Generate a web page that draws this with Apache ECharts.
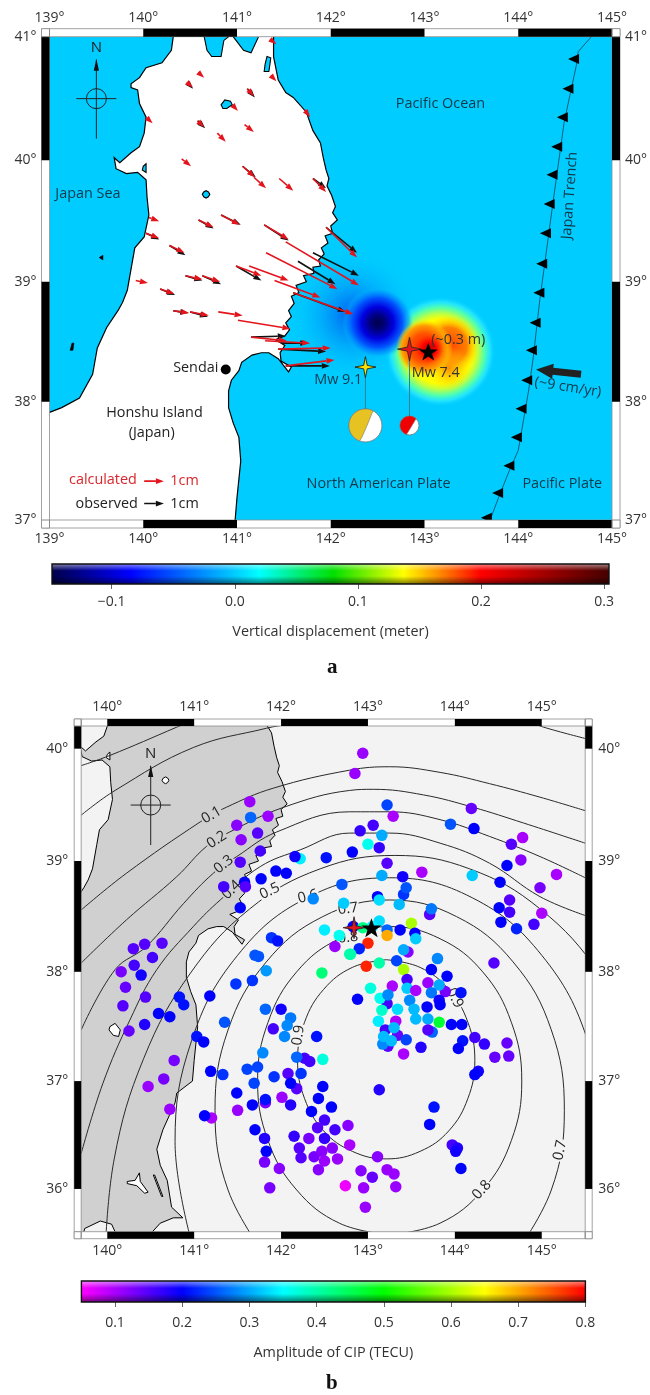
<!DOCTYPE html>
<html><head><meta charset="utf-8">
<style>html,body{margin:0;padding:0;background:#fff}#c{width:650px;height:1395px}</style>
<script src="https://cdn.jsdelivr.net/npm/echarts@6/dist/echarts.min.js"></script>
</head><body><div id="c"></div>
<script>
// ---------- coastline and water (lon, lat) ----------
const honshuEast=[[141.39,41.00],[141.39,40.84],[141.44,40.65],[141.52,40.55],[141.60,40.51],[141.74,40.39],[141.81,40.24],[141.89,40.14],[141.92,40.02],[141.95,39.92],[141.98,39.85],[141.96,39.79],[142.01,39.71],[142.05,39.62],[142.02,39.57],[142.07,39.51],[142.00,39.46],[142.02,39.40],[141.94,39.38],[141.97,39.32],[141.90,39.28],[141.93,39.23],[141.87,39.18],[141.89,39.13],[141.81,39.12],[141.82,39.07],[141.71,39.05],[141.74,39.00],[141.63,38.97],[141.66,38.91],[141.58,38.88],[141.61,38.82],[141.55,38.76],[141.58,38.71],[141.52,38.66],[141.56,38.60],[141.51,38.55],[141.41,38.52],[141.51,38.47],[141.46,38.41],[141.47,38.34],[141.58,38.29],[141.55,38.25],[141.44,38.36],[141.34,38.41],[141.26,38.41],[141.16,38.39],[141.05,38.33],[141.02,38.26],[140.94,38.18],[140.91,38.09],[140.91,37.95],[140.96,37.82],[141.02,37.70],[141.04,37.50],[141.00,37.19],[140.98,37.00],[140.80,36.89],[140.78,36.80],[140.64,36.55],[140.57,36.37],[140.61,36.22],[140.69,36.08],[140.74,35.83],[140.87,35.73],[140.76,35.73],[140.61,35.68],[140.52,35.60],[140.50,35.50]];
const honshuSouth=[[140.09,35.50],[140.09,35.60],[140.05,35.67],[139.92,35.70],[139.74,35.63],[139.70,35.50],[138.00,35.50],[138.00,37.60]];
const honshuWest=[[140.32,41.00],[140.30,40.89],[140.20,40.79],[140.03,40.75],[139.96,40.67],[139.87,40.62],[139.87,40.59],[139.94,40.57],[139.96,40.46],[140.03,40.35],[140.01,40.22],[139.96,40.11],[139.87,40.06],[139.75,39.98],[139.69,40.02],[139.71,39.93],[139.82,39.89],[139.94,39.90],[140.03,39.84],[140.04,39.70],[140.06,39.55],[140.01,39.37],[139.91,39.28],[139.88,39.15],[139.83,38.93],[139.78,38.83],[139.73,38.76],[139.61,38.62],[139.51,38.45],[139.46,38.23],[139.32,38.03],[139.13,37.95],[139.00,37.91],[138.90,37.87]];
const ogawara=[[141.32,40.84],[141.36,40.83],[141.35,40.77],[141.34,40.72],[141.29,40.72],[141.30,40.78]];
const towada=[[140.83,40.45],[140.87,40.49],[140.93,40.48],[140.95,40.45],[140.89,40.42],[140.85,40.42]];
const tazawa=[[140.63,39.72],[140.645,39.74],[140.67,39.75],[140.695,39.74],[140.71,39.72],[140.695,39.70],[140.67,39.69],[140.645,39.70]];
const hachirogata=[[140.00,39.95],[140.03,39.97],[140.03,39.90],[139.99,39.92]];
const inawashiro=[[140.03,37.50],[140.09,37.53],[140.15,37.47],[140.13,37.41],[140.07,37.42],[140.02,37.47]];
const kasumigaura=[[140.23,36.07],[140.32,36.08],[140.37,36.15],[140.38,36.07],[140.47,35.97],[140.43,35.96],[140.34,36.03],[140.23,36.05]];
const kitaura=[[140.53,36.13],[140.545,36.13],[140.64,35.93],[140.625,35.93]];
const mutsuBay=[[140.65,41.10],[140.65,41.00],[140.68,40.89],[140.73,40.84],[140.83,40.84],[140.86,40.97],[140.91,41.00],[140.91,41.10]];
const noheji=[[140.96,41.10],[140.96,41.00],[141.07,40.89],[141.15,40.87],[141.23,41.00],[141.23,41.10]];
const tobishima=[[139.53,39.20],[139.57,39.22],[139.57,39.18]];
const awashima=[[139.22,38.43],[139.24,38.49],[139.26,38.49],[139.25,38.43]];
// ---------- panel a marks ----------
const trenchLine=[[144.78,41.00],[144.64,40.88],[144.62,40.77],[144.49,40.31],[144.37,39.65],[144.23,38.85],[144.16,38.37],[144.11,38.09],[144.00,37.59],[143.90,37.41],[143.79,37.19],[143.70,37.00]];
const trenchTeeth=[[144.59,40.82],[144.53,40.58],[144.47,40.35],[144.41,40.11],[144.36,39.88],[144.33,39.64],[144.29,39.40],[144.25,39.15],[144.22,38.91],[144.18,38.66],[144.14,38.43],[144.09,38.18],[144.03,37.94],[143.98,37.70],[143.90,37.46],[143.78,37.23],[143.66,37.02]];
const calculatedArrows=[[141.37,40.97,141.42,40.94],[141.37,40.68,141.42,40.64],[140.59,40.71,140.65,40.67],[140.47,40.63,140.53,40.59],[141.11,40.58,141.18,40.52],[140.95,40.45,141.01,40.40],[141.72,40.41,141.78,40.35],[140.03,40.35,140.10,40.30],[140.58,40.32,140.65,40.27],[141.08,40.29,141.18,40.23],[140.79,40.22,140.88,40.15],[140.41,40.01,140.51,39.95],[141.06,39.95,141.19,39.86],[141.18,39.86,141.31,39.77],[141.45,39.85,141.60,39.75],[141.81,39.85,141.95,39.74],[140.06,39.53,140.17,39.50],[140.59,39.51,140.75,39.45],[140.83,39.55,141.03,39.47],[140.03,39.40,140.17,39.36],[140.28,39.30,140.44,39.24],[141.29,39.47,141.55,39.35],[141.95,39.45,142.28,39.20],[141.52,39.33,142.30,38.97],[141.31,39.24,142.07,38.94],[140.99,39.13,141.26,39.05],[141.13,39.13,141.55,39.01],[141.40,39.01,141.89,38.87],[141.60,38.91,142.24,38.73],[140.45,39.05,140.63,39.02],[140.63,39.05,140.82,39.00],[139.92,39.01,140.05,38.99],[140.18,38.94,140.33,38.90],[140.32,38.76,140.49,38.74],[140.50,38.75,140.70,38.72],[140.80,38.75,141.06,38.72],[141.01,38.68,141.57,38.61],[141.15,38.54,141.53,38.51],[141.30,38.51,141.78,38.49],[141.44,38.44,142.00,38.45],[141.52,38.30,142.04,38.35],[140.01,37.33,140.22,37.33]];
const observedArrows=[[141.95,39.45,142.28,39.24],[141.81,39.24,142.30,39.05],[141.65,39.17,142.05,38.98],[140.99,39.13,141.26,39.01],[141.60,38.91,142.16,38.75],[141.15,38.54,141.52,38.55],[141.47,38.49,141.76,38.49],[141.44,38.44,141.95,38.42],[141.52,38.30,141.99,38.30],[140.47,40.63,140.53,40.58],[141.11,40.58,141.19,40.51],[140.58,40.32,140.66,40.26],[141.06,39.95,141.20,39.86],[141.81,39.85,141.95,39.77],[140.59,39.51,140.75,39.44],[140.83,39.55,141.04,39.47],[140.03,39.40,140.17,39.35],[140.28,39.30,140.45,39.22],[141.29,39.47,141.55,39.34],[140.45,39.05,140.63,39.01],[140.63,39.05,140.83,38.98],[140.18,38.94,140.34,38.89],[140.32,38.76,140.48,38.74],[140.50,38.75,140.69,38.71],[140.01,37.14,140.22,37.14]];
const plateArrow=[144.67,38.23,144.19,38.27];
const sendai=[[140.88,38.27]];
const mainshockA=[[142.37,38.29]];
const foreshockA=[[142.84,38.44]];
const epicenterA=[[143.04,38.42]];
const focalBalls=[[142.37,38.29,37.80,16.5,'#e6c222',63,251,0.12],[142.84,38.44,37.80,9.5,'#f00000',46,252,0.27]];
// displacement field: lon, lat, half-widths in degrees, colour ramp
const fieldBlobs=[
 [142.24,38.72,0.80,0.55,[[0,'rgba(0,80,240,0.95)'],[1,'rgba(0,204,255,0)']]],
 [143.17,38.42,0.62,0.46,[[0,'#ffff00'],[0.58,'#ffff00'],[0.68,'#c0ff40'],[0.8,'#50ffb0'],[0.9,'rgba(40,232,255,0.8)'],[1,'rgba(0,204,255,0)']]],
 [142.50,38.66,0.38,0.45,[[0,'#00004a'],[0.2,'#00007a'],[0.45,'#0000e0'],[0.7,'rgba(0,80,255,0.95)'],[0.88,'rgba(0,150,255,0.6)'],[1,'rgba(0,204,255,0)']]],
 [143.26,38.47,0.32,0.25,[[0,'#ff4000'],[0.6,'#ff8000'],[1,'rgba(255,220,0,0)']]],
 [143.26,38.28,0.265,0.185,[[0,'#ff9000'],[1,'rgba(255,230,0,0)']]],
 [143.00,38.45,0.37,0.235,[[0,'#ff2000'],[0.5,'#ff5000'],[0.8,'#ffa000'],[1,'rgba(255,220,0,0)']]],
 [143.05,38.44,0.24,0.12,[[0,'#b80000'],[0.5,'#ff0000'],[1,'rgba(255,40,0,0)']]]
];
const labelsA=[[143.17,40.46,'Pacific Ocean',0,'#12384a'],[139.41,39.72,'Japan Sea',0,'#12384a'],[144.55,39.71,'Japan Trench',86,'#12384a'],[140.56,38.28,'Sendai',0,'#222'],[140.12,37.91,'Honshu Island',0,'#222'],[140.09,37.74,'(Japan)',0,'#222'],[139.57,37.34,'calculated',0,'#d9262a'],[139.61,37.14,'observed',0,'#222'],[140.44,37.33,'1cm',0,'#d9262a'],[140.44,37.14,'1cm',0,'#222'],[142.08,38.18,'Mw 9.1',0,'#12384a'],[143.12,38.24,'Mw 7.4',0,'#333'],[143.36,38.52,'(~0.3 m)',0,'#333'],[144.53,38.12,'(~9 cm/yr)',-9,'#12384a'],[142.51,37.31,'North American Plate',0,'#12384a'],[144.47,37.31,'Pacific Plate',0,'#12384a']];
// ---------- panel b marks ----------
const ring0=[[139.70,39.85],[140.03,39.94],[140.80,40.19],[141.07,40.28],[141.40,40.45]];
const ring00=[[139.70,39.41],[140.09,39.63],[140.99,40.01],[141.83,40.18],[142.14,40.23],[143.5,40.55],[145.02,40.19],[145.50,40.09]];
const ring01=[[139.70,38.56],[140.22,38.89],[141.07,39.35],[141.37,39.48],[141.91,39.65],[142.79,39.81],[143.25,39.84],[143.83,39.79],[144.40,39.69],[144.98,39.57],[145.50,39.45]];
const ring02=[[139.70,38.08],[140.22,38.47],[140.80,38.86],[141.14,39.13],[141.41,39.26],[142.03,39.48],[142.79,39.63],[143.06,39.64],[143.64,39.59],[144.21,39.48],[144.79,39.34],[145.50,39.16]];
const ring03=[[139.70,37.47],[140.09,38.02],[140.45,38.23],[140.88,38.62],[141.22,38.89],[141.49,39.04],[141.95,39.26],[142.79,39.44],[143.25,39.44],[143.83,39.37],[144.40,39.22],[144.98,39.04],[145.50,38.85]];
const ring04=[[139.70,36.33],[139.95,36.98],[140.26,37.56],[140.57,38.02],[140.99,38.41],[141.30,38.65],[141.76,38.95],[142.22,39.10],[142.79,39.25],[143.25,39.25],[143.83,39.16],[144.40,38.98],[144.98,38.68],[145.50,38.51]];
const ring05=[[139.97,35.30],[140.08,36.28],[140.42,37.21],[140.95,37.98],[141.64,38.57],[142.45,38.93],[143.31,39.05],[144.17,38.93],[144.98,38.57],[145.67,37.98],[146.20,37.21]];
const ring06=[[140.97,35.50],[140.78,36.44],[140.97,37.37],[141.50,38.15],[142.30,38.67],[143.25,38.85],[144.20,38.67],[145.00,38.15],[145.53,37.37],[145.72,36.44],[145.53,35.50]];
const ring07=[[141.83,35.36],[141.39,35.99],[141.24,36.73],[141.39,37.47],[141.83,38.09],[142.48,38.50],[143.25,38.65],[144.02,38.50],[144.67,38.09],[145.11,37.47],[145.26,36.73],[145.11,35.99],[144.67,35.36]];
const ring08=[[143.25,35.57],[142.67,35.68],[142.18,35.99],[141.85,36.45],[141.73,37.00],[141.85,37.54],[142.18,38.00],[142.67,38.30],[143.25,38.41],[143.83,38.30],[144.32,38.00],[144.65,37.54],[144.77,37.00],[144.65,36.45],[144.32,35.99],[143.83,35.68],[143.25,35.57]];
const ring09=[[143.21,38.11],[143.60,38.04],[143.93,37.84],[144.15,37.54],[144.23,37.19],[144.15,36.84],[143.93,36.54],[143.60,36.35],[143.21,36.28],[142.82,36.35],[142.49,36.54],[142.27,36.84],[142.19,37.19],[142.27,37.54],[142.49,37.84],[142.82,38.04],[143.21,38.11]];
const rings=[ring0,ring00,ring01,ring02,ring03,ring04,ring05,ring06,ring07,ring08,ring09];
const ringLabels=[[141.20,39.41,'0.1',30,'#d0d0d0'],[141.26,39.19,'0.2',33,'#d0d0d0'],[141.34,38.97,'0.3',38,'#d0d0d0'],[141.43,38.74,'0.4',45,'#d0d0d0'],[141.87,38.73,'0.5',25,'#f3f3f3'],[142.31,38.68,'0.6',14,'#f3f3f3'],[142.77,38.57,'0.7',8,'#f3f3f3'],[142.77,38.31,'0.8',5,'#f3f3f3'],[142.20,37.42,'0.9',82,'#f3f3f3'],[144.00,37.76,'0.9',-62,'#f3f3f3'],[144.31,35.99,'0.8',48,'#f3f3f3'],[145.21,36.36,'0.7',78,'#f3f3f3']];
const cipPoints=[[141.64,39.53,.11],[141.65,39.39,.26],[141.85,39.40,.11],[141.49,39.32,.12],[141.73,39.25,.15],[141.54,39.19,.12],[141.76,39.09,.16],[141.53,38.99,.15],[142.22,39.02,.34],[142.16,39.04,.19],[142.52,39.03,.21],[141.94,38.91,.2],[142.06,38.89,.2],[141.58,38.81,.2],[141.59,38.77,.15],[141.77,38.84,.2],[141.34,38.77,.16],[141.53,38.58,.2],[142.70,38.79,.25],[142.37,38.66,.28],[142.72,38.62,.32],[142.50,38.38,.34],[142.67,38.33,.36],[142.62,38.23,.11],[142.79,38.16,.4],[142.47,37.99,.43],[141.89,38.31,.23],[141.96,38.28,.21],[141.70,38.15,.25],[141.74,38.14,.25],[141.83,38.01,.29],[141.67,37.92,.23],[141.48,37.89,.23],
[140.30,38.21,.15],[140.43,38.25,.15],[140.63,38.26,.15],[140.52,38.13,.16],[140.31,38.06,.16],[140.16,38.00,.13],[140.39,37.97,.19],[140.21,37.86,.14],[140.44,37.77,.15],[140.18,37.69,.15],[140.83,37.77,.21],[140.88,37.70,.21],[140.59,37.62,.2],[140.72,37.59,.2],[140.43,37.52,.18],[140.25,37.46,.14],[141.18,37.78,.2],[141.35,37.54,.25],[141.03,37.41,.21],[141.11,37.36,.2],[140.77,37.19,.13],[140.65,37.02,.13],[140.47,36.95,.11],[140.72,36.74,.11],[141.20,36.66,.1],[141.12,36.68,.2],[141.50,36.73,.11],[141.19,37.09,.2],[141.33,37.06,.23],[141.61,37.11,.24],[141.73,37.13,.24],[141.69,36.98,.24],[141.92,37.04,.23],[141.49,36.89,.2],[141.67,36.78,.2],[141.82,36.80,.13],[141.82,36.83,.21],[142.01,36.85,.11],[142.08,37.07,.15],[142.18,36.93,.15],[142.11,36.98,.2],[142.23,37.07,.23],[142.11,36.78,.18],[142.48,36.95,.2],[142.43,36.84,.2],[142.58,36.76,.2],[142.35,36.72,.2],[142.50,36.64,.16],[142.42,36.57,.15],[142.62,36.55,.16],[142.77,36.59,.12],[142.15,36.49,.17],[142.32,36.47,.13],[142.50,36.47,.17],[142.79,36.41,.1],[142.59,36.38,.12],[142.21,36.38,.15],[142.23,36.29,.15],[142.38,36.30,.13],[142.47,36.35,.12],[142.50,36.26,.11],[142.65,36.28,.11],[142.43,36.18,.12],[142.74,36.03,.06],[141.70,36.55,.2],[141.81,36.47,.18],[141.83,36.35,.2],[141.81,36.25,.13],[141.98,36.19,.12],[141.87,36.01,.13],[141.82,37.66,.26],[142.00,37.66,.19],[142.11,37.58,.27],[142.07,37.51,.28],[141.91,37.48,.16],[142.04,37.41,.28],[142.41,37.41,.21],[141.79,37.26,.28],[142.27,37.21,.16],[142.33,37.18,.16],[142.18,37.22,.26],[142.48,37.20,.37],
[142.94,39.96,.11],[142.85,39.78,.11],[143.22,39.50,.24],[143.29,39.40,.1],[143.06,39.32,.16],[142.91,39.27,.17],[143.16,39.23,.3],[143.00,39.15,.36],[143.13,39.12,.17],[142.82,39.08,.2],[143.22,38.98,.15],[143.16,38.87,.3],[143.40,38.86,.19],[143.62,38.90,.1],[143.41,38.70,.23],[143.44,38.76,.25],[143.11,38.68,.2],[143.13,38.65,.33],[143.36,38.61,.31],[143.71,38.52,.15],[143.73,38.57,.27],[143.13,38.46,.33],[143.50,38.44,.6],[143.95,39.33,.25],[144.19,39.47,.14],[144.22,39.29,.2],[144.78,39.21,.1],[144.65,39.15,.15],[144.76,39.01,.12],[144.60,38.96,.2],[145.17,38.88,.1],[144.98,38.76,.13],[144.20,38.87,.32],[144.52,38.81,.2],[144.63,38.65,.15],[144.51,38.58,.2],[144.63,38.54,.16],[145.00,38.53,.1],[144.53,38.45,.2],[144.71,38.39,.22],[144.91,38.43,.16],[144.45,38.08,.15],[143.22,38.38,.26],[143.37,38.38,.2],[143.54,38.35,.2],[143.55,38.30,.32],[143.22,38.33,.7],[143.05,38.41,.34],[142.83,38.41,.2],[142.94,38.40,.42],[143.00,38.26,.78],[142.90,38.21,.22],[142.80,38.16,.4],[142.98,38.05,.78],[143.13,38.08,.4],[143.33,38.10,.24],[143.46,38.18,.12],[143.41,38.20,.3],[143.41,38.02,.6],[143.80,38.12,.28],[143.73,38.02,.2],[143.91,37.96,.2],[143.45,37.93,.16],[143.69,37.90,.11],[143.28,37.87,.1],[143.45,37.85,.32],
[143.03,37.85,.37],[143.55,37.83,.1],[143.89,37.82,.13],[143.82,37.88,.3],[143.73,37.81,.27],[144.07,37.81,.21],[142.88,37.75,.2],[143.22,37.71,.16],[143.14,37.76,.36],[143.23,37.79,.28],[143.48,37.74,.28],[143.82,37.74,.19],[143.83,37.70,.2],[143.68,37.68,.2],[143.34,37.66,.33],[143.16,37.65,.38],[143.53,37.66,.31],[143.32,37.55,.1],[143.12,37.55,.34],[143.55,37.57,.31],[143.69,37.57,.3],[143.82,37.54,.47],[143.96,37.52,.2],[144.08,37.52,.2],[143.20,37.47,.16],[143.34,37.42,.14],[143.30,37.49,.31],[143.74,37.45,.26],[143.69,37.47,.15],[143.23,37.32,.15],[143.17,37.34,.28],[143.18,37.41,.31],[143.27,37.37,.31],[143.44,37.38,.24],[143.61,37.31,.18],[143.41,37.25,.1],[144.09,37.37,.21],[144.04,37.30,.2],[144.23,37.40,.16],[144.34,37.34,.17],[144.60,37.35,.14],[144.46,37.22,.14],[144.62,37.23,.14],[144.27,37.09,.19],[144.23,37.06,.2],[143.13,36.92,.18],[143.76,36.76,.21],[143.71,36.60,.2],[143.97,36.41,.16],[144.03,36.38,.18],[144.01,36.35,.19],[144.07,36.19,.2],[143.11,36.30,.12],[142.92,36.17,.12],[143.05,36.11,.14],[143.22,36.18,.11],[143.30,36.14,.11],[143.32,36.02,.11],[142.95,36.01,.11],[142.97,35.83,.11]];
const foreshockB=[[142.84,38.40]];
const epicenterB=[[143.04,38.40]];
// ---------- ticks and scales ----------
const lonTicksA=[139,140,141,142,143,144,145], latTicksA=[41,40,39,38,37];
const lonTicksB=[140,141,142,143,144,145], latTicksB=[40,39,38,37,36];
const lonEdgesA=[139,140,141,142,143,144,145], latEdgesA=[41,40,39,38,37];
const lonEdgesB=[139.7,140,141,142,143,144,145,145.5], latEdgesB=[40.2,40,39,38,37,36,35.6];
const barTicksA=[-0.1,0,0.1,0.2,0.3], barTicksB=[0.1,0.2,0.3,0.4,0.5,0.6,0.7,0.8];
const barStopsA=[[-0.1485,'#00004a'],[-0.085,'#0000ff'],[0,'#00ccff'],[0.02,'#00ffff'],[0.08,'#00e000'],[0.137,'#ffff00'],[0.165,'#ff9000'],[0.2,'#ff0000'],[0.3,'#4c0000'],[0.304,'#4a0000']];
const barStopsB=[[0.05,'#ff00ff'],[0.2,'#0000ff'],[0.35,'#00ffff'],[0.5,'#00ff00'],[0.65,'#ffff00'],[0.8,'#ff0000']];

const FONT='"Open Sans"';
const merc=lat=>Math.log(Math.tan(Math.PI/4+lat*Math.PI/360))*180/Math.PI;
const ll=p=>[p[0],merc(p[1])];
const G=echarts.graphic;

const OCEAN='#00ccff', SEA_B='#f3f3f3', LAND_B='#d0d0d0';
const series=[];
function add(s,grid){ s.xAxisIndex=grid*2; s.yAxisIndex=grid*2; s.z=2+series.length; s.silent=true; s.animation=false; series.push(s); return series.length-1; }

function polySeries(grid,polys,fill,stroke,lw){
  add({type:'custom',coordinateSystem:'cartesian2d',clip:true,data:polys.map(p=>ll(p[0])),
    renderItem(params,api){
      return {type:'polygon',shape:{points:polys[params.dataIndex].map(q=>api.coord(ll(q)))},style:{fill,stroke,lineWidth:lw}};
    }},grid);
}
function arrowSeries(grid,list,color){
  add({type:'custom',coordinateSystem:'cartesian2d',clip:true,data:list.map(a=>[a[0],merc(a[1])]),
    renderItem(params,api){
      const a=list[params.dataIndex];
      const s=api.coord([a[0],merc(a[1])]), e=api.coord([a[2],merc(a[3])]);
      const t=Math.atan2(e[1]-s[1],e[0]-s[0]), L=8, W=2.9;
      const b=[e[0]-L*Math.cos(t),e[1]-L*Math.sin(t)];
      const n=[-Math.sin(t)*W,Math.cos(t)*W];
      return {type:'group',children:[
        {type:'line',shape:{x1:s[0],y1:s[1],x2:b[0],y2:b[1]},style:{stroke:color,lineWidth:1.6}},
        {type:'polygon',shape:{points:[e,[b[0]+n[0],b[1]+n[1]],[b[0]-n[0],b[1]-n[1]]]},style:{fill:color}}
      ]};
    }},grid);
}
function textSeries(grid,list,size){
  add({type:'custom',coordinateSystem:'cartesian2d',clip:false,data:list.map(r=>[r[0],merc(r[1])]),
    renderItem(params,api){
      const r=list[params.dataIndex], p=api.coord([r[0],merc(r[1])]);
      return {type:'text',x:p[0],y:p[1],rotation:r[3]*Math.PI/180,
        style:{text:r[2],fill:r[4],font:size+'px '+FONT,align:'center',verticalAlign:'middle'}};
    }},grid);
}
function symbolSeries(grid,pts,path,size,fill,stroke,lw){
  add({type:'scatter',data:pts.map(ll),symbol:path,symbolSize:size,clip:false,
    itemStyle:{color:fill,borderColor:stroke,borderWidth:lw,opacity:1}},grid);
}
const STAR4='path://M0,-12 L2,-2 L12,0 L2,2 L0,12 L-2,2 L-12,0 L-2,-2 Z';
const STAR5='path://M0,-10 L2.35,-3.1 L9.5,-3.1 L3.8,1.2 L5.9,8.1 L0,4 L-5.9,8.1 L-3.8,1.2 L-9.5,-3.1 L-2.35,-3.1 Z';

function compass(grid,lon,lat){
  add({type:'custom',coordinateSystem:'cartesian2d',clip:false,data:[[lon,merc(lat)]],
    renderItem(params,api){
      const [x,y]=api.coord([lon,merc(lat)]);
      const st={stroke:'#222',lineWidth:1,fill:null};
      return {type:'group',children:[
        {type:'circle',shape:{cx:x,cy:y,r:10},style:st},
        {type:'line',shape:{x1:x-20,y1:y,x2:x+20,y2:y},style:st},
        {type:'line',shape:{x1:x,y1:y-39,x2:x,y2:y+40},style:st},
        {type:'polygon',shape:{points:[[x,y-40],[x-2.6,y-28],[x+2.6,y-28]]},style:{fill:'#111'}},
        {type:'text',x:x,y:y-51,style:{text:'N',fill:'#222',font:'15px '+FONT,align:'center',verticalAlign:'middle'}}
      ]};
    }},grid);
}
function frame(grid,lons,lats,band){
  add({type:'custom',coordinateSystem:'cartesian2d',clip:false,data:[[lons[0],merc(lats[0])]],
    renderItem(params,api){
      const c=params.coordSys, ch=[], GR='#8a8a8a';
      const X0=c.x,Y0=c.y,X1=c.x+c.width,Y1=c.y+c.height;
      const rect=(x,y,w,h,blk)=>ch.push({type:'rect',shape:{x,y,width:w,height:h},style:{fill:blk?'#000':'#fff',stroke:blk?'#000':GR,lineWidth:blk?0:0.8}});
      rect(X0-band,Y0-band,X1-X0+2*band,band,false);rect(X0-band,Y1,X1-X0+2*band,band,false);
      rect(X0-band,Y0-band,band,Y1-Y0+2*band,false);rect(X1,Y0-band,band,Y1-Y0+2*band,false);
      for(let i=0;i<lons.length-1;i++){
        if(Math.floor(lons[i])%2!==0) continue;
        const a=api.coord([lons[i],merc(lats[0])])[0], b=api.coord([lons[i+1],merc(lats[0])])[0];
        rect(a,Y0-band,b-a,band,true); rect(a,Y1,b-a,band,true);
      }
      for(let i=0;i<lats.length-1;i++){
        if(Math.floor(lats[i+1])%2!==0) continue;
        const a=api.coord([lons[0],merc(lats[i])])[1], b=api.coord([lons[0],merc(lats[i+1])])[1];
        rect(X0-band,a,band,b-a,true); rect(X1,a,band,b-a,true);
      }
      const ln=(x1,y1,x2,y2)=>ch.push({type:'line',shape:{x1,y1,x2,y2},style:{stroke:GR,lineWidth:1}});
      ln(X0,Y0-band,X0,Y0);ln(X1,Y0-band,X1,Y0);ln(X0,Y1,X0,Y1+band);ln(X1,Y1,X1,Y1+band);
      ln(X0-band,Y0,X0,Y0);ln(X1,Y0,X1+band,Y0);ln(X0-band,Y1,X0,Y1);ln(X1,Y1,X1+band,Y1);
      return {type:'group',children:ch};
    }},grid);
}
function colorbar(grid,stops,mn,mx){
  add({type:'custom',coordinateSystem:'cartesian2d',clip:false,data:[[mn,0]],
    renderItem(params){
      const c=params.coordSys;
      const grad=new G.LinearGradient(0,0,1,0,stops.map(s=>({offset:(s[0]-mn)/(mx-mn),color:s[1]})));
      const sheen=new G.LinearGradient(0,0,0,1,[{offset:0,color:'rgba(255,255,255,0.55)'},{offset:0.35,color:'rgba(255,255,255,0)'},{offset:0.6,color:'rgba(0,0,0,0)'},{offset:1,color:'rgba(0,0,0,0.55)'}]);
      const sh={x:c.x,y:c.y,width:c.width,height:c.height};
      return {type:'group',children:[
        {type:'rect',shape:sh,style:{fill:grad}},
        {type:'rect',shape:sh,style:{fill:sheen,stroke:'#111',lineWidth:1.4}}
      ]};
    }},grid);
}

// ---------- panel a ----------
add({type:'custom',coordinateSystem:'cartesian2d',clip:true,data:fieldBlobs.map(b=>[b[0],merc(b[1])]),
  renderItem(params,api){
    const b=fieldBlobs[params.dataIndex];
    const c=api.coord([b[0],merc(b[1])]);
    const rx=Math.abs(api.coord([b[0]+b[2],merc(b[1])])[0]-c[0]);
    const ry=Math.abs(api.coord([b[0],merc(b[1]+b[3])])[1]-c[1]);
    return {type:'ellipse',shape:{cx:c[0],cy:c[1],rx,ry},style:{fill:new G.RadialGradient(0.5,0.5,0.5,b[4].map(s=>({offset:s[0],color:s[1]})))}};
  }},0);
const honshu=[...honshuEast,...honshuSouth,...honshuWest.slice().reverse(),[140.32,41.2],[141.39,41.2]];
polySeries(0,[honshu],'#fff','#000',1.2);
polySeries(0,[ogawara,towada,tazawa,hachirogata,mutsuBay,noheji],OCEAN,'#000',1.1);
polySeries(0,[tobishima,awashima],'#000','#000',0.6);
add({type:'line',data:trenchLine.map(ll),showSymbol:false,clip:true,lineStyle:{color:'#0a5f7a',width:1}},0);
symbolSeries(0,trenchTeeth,'triangle',[10,11],'#000',null,0);
series[series.length-1].symbolRotate=90;
arrowSeries(0,observedArrows,'#111');
arrowSeries(0,calculatedArrows,'#e3141c');
// stem lines and focal mechanisms
add({type:'custom',coordinateSystem:'cartesian2d',clip:false,data:focalBalls.map(b=>[b[0],merc(b[1])]),
  renderItem(params,api){
    const b=focalBalls[params.dataIndex];
    const s=api.coord([b[0],merc(b[1])]), c=api.coord([b[0],merc(b[2])]), r=b[3];
    const pts=[];
    for(let a=b[5];a<=b[6];a+=6){const t=a*Math.PI/180;pts.push([c[0]+r*Math.cos(t),c[1]-r*Math.sin(t)]);}
    const t0=b[5]*Math.PI/180,t1=b[6]*Math.PI/180;
    const p0=[c[0]+r*Math.cos(t0),c[1]-r*Math.sin(t0)],p1=[c[0]+r*Math.cos(t1),c[1]-r*Math.sin(t1)];
    const k=[c[0]+b[7]*r,c[1]];
    for(let u=0.1;u<1;u+=0.1){pts.push([(1-u)*(1-u)*p1[0]+2*u*(1-u)*k[0]+u*u*p0[0],(1-u)*(1-u)*p1[1]+2*u*(1-u)*k[1]+u*u*p0[1]]);}
    return {type:'group',children:[
      {type:'line',shape:{x1:s[0],y1:s[1],x2:c[0],y2:c[1]},style:{stroke:'#2a7f99',lineWidth:1}},
      {type:'circle',shape:{cx:c[0],cy:c[1],r},style:{fill:'#fff',stroke:'#777',lineWidth:0.8}},
      {type:'polygon',shape:{points:pts},style:{fill:b[4],stroke:'#777',lineWidth:0.6}}
    ]};
  }},0);
symbolSeries(0,sendai,'circle',10,'#000',null,0);
symbolSeries(0,mainshockA,STAR4,[21,21],'#ffe100','#111',0.8);
symbolSeries(0,foreshockA,STAR4,[24,24],'#e3141c','#222',0.8);
symbolSeries(0,epicenterA,STAR5,[19,18],'#000',null,0);
// plate motion arrow
add({type:'custom',coordinateSystem:'cartesian2d',clip:false,data:[[plateArrow[0],merc(plateArrow[1])]],
  renderItem(params,api){
    const s=api.coord([plateArrow[0],merc(plateArrow[1])]), e=api.coord([plateArrow[2],merc(plateArrow[3])]);
    const t=Math.atan2(e[1]-s[1],e[0]-s[0]), nx=-Math.sin(t), ny=Math.cos(t), L=17;
    const b=[e[0]-L*Math.cos(t),e[1]-L*Math.sin(t)];
    const w=3.6,W=7.5;
    return {type:'polygon',shape:{points:[[s[0]+nx*w,s[1]+ny*w],[b[0]+nx*w,b[1]+ny*w],[b[0]+nx*W,b[1]+ny*W],e,[b[0]-nx*W,b[1]-ny*W],[b[0]-nx*w,b[1]-ny*w],[s[0]-nx*w,s[1]-ny*w]]},style:{fill:'#222'}};
  }},0);
compass(0,139.50,40.50);
textSeries(0,labelsA,14.4);
frame(0,lonEdgesA,latEdgesA,8);

// ---------- panel b ----------
polySeries(1,[honshu],LAND_B,'#000',1);
polySeries(1,[tazawa,hachirogata,inawashiro,kasumigaura,kitaura],'#fff','#000',1);
rings.forEach(r=>add({type:'line',data:r.map(ll),showSymbol:false,clip:true,smooth:0.4,lineStyle:{color:'#2a2a2a',width:1}},1));
add({type:'custom',coordinateSystem:'cartesian2d',clip:false,data:ringLabels.map(r=>[r[0],merc(r[1])]),
  renderItem(params,api){
    const r=ringLabels[params.dataIndex], p=api.coord([r[0],merc(r[1])]);
    return {type:'text',x:p[0],y:p[1],rotation:r[3]*Math.PI/180,
      style:{text:r[2],fill:'#222',font:'14.5px '+FONT,align:'center',verticalAlign:'middle',backgroundColor:r[4],padding:[0,1]}};
  }},1);
const dotsIndex=add({type:'scatter',data:cipPoints.map(p=>[p[0],merc(p[1]),p[2]]),symbol:'circle',symbolSize:11.5,clip:true,itemStyle:{opacity:1}},1);
symbolSeries(1,foreshockB,STAR4,[22,22],'#e3141c','#222',0.8);
symbolSeries(1,epicenterB,STAR5,[20,19],'#000',null,0);
compass(1,140.50,39.50);
frame(1,lonEdgesB,latEdgesB,7);

// ---------- colour bars ----------
colorbar(2,barStopsA,-0.1485,0.304);
colorbar(3,barStopsB,0.05,0.8);

// ---------- axes ----------
const lbl=(margin,size)=>({color:'#333',fontFamily:FONT,fontSize:size,margin});
function mapAxes(lonMin,lonMax,latMin,latMax,lonT,latT,grid,m){
  const base={type:'value',gridIndex:grid,axisLine:{show:false},axisTick:{show:false},splitLine:{show:false}};
  const xa=pos=>({...base,position:pos,min:lonMin,max:lonMax,axisLabel:{...lbl(m,14),customValues:lonT,formatter:v=>Math.round(v)+'°'}});
  const ya=pos=>({...base,position:pos,min:merc(latMin),max:merc(latMax),axisLabel:{...lbl(m+1,14),customValues:latT.map(merc),
     formatter:v=>Math.round(2*Math.atan(Math.exp(v*Math.PI/180))*180/Math.PI-90)+'°'}});
  return {x:[xa('bottom'),xa('top')],y:[ya('left'),ya('right')]};
}
const A=mapAxes(139,145,37,41,lonTicksA,latTicksA,0,12);
const B=mapAxes(139.7,145.5,35.6,40.2,lonTicksB,latTicksB,1,12);
function barAxes(mn,mx,ticks,grid,title,margin,gap){
  const base={type:'value',gridIndex:grid,splitLine:{show:false},axisLine:{show:false}};
  return {x:[{...base,position:'bottom',min:mn,max:mx,
     axisTick:{show:true,length:5,lineStyle:{color:'#666'},customValues:ticks},
     axisLabel:{...lbl(margin,14),customValues:ticks,formatter:v=>(v<0?'\u2212':'')+Math.abs(v).toFixed(1)},
     name:title,nameLocation:'middle',nameGap:gap,nameTextStyle:{color:'#333',fontFamily:FONT,fontSize:14.4}},
     {...base,show:false,position:'top',min:mn,max:mx}],
    y:[{...base,show:false,min:0,max:1},{...base,show:false,min:0,max:1,position:'right'}]};
}
const CA=barAxes(-0.1485,0.304,barTicksA,2,'Vertical displacement (meter)',11,41);
const CB=barAxes(0.05,0.8,barTicksB,3,'Amplitude of CIP (TECU)',14,44);

const option={
  backgroundColor:'#fff',animation:false,
  grid:[
    {left:49.5,top:36.7,width:566.5,height:483.3,show:true,backgroundColor:OCEAN,borderWidth:0},
    {left:81.2,top:726,width:504,height:505.7,show:true,backgroundColor:SEA_B,borderWidth:0},
    {left:52,top:564,width:557,height:20},
    {left:81.4,top:1281,width:504,height:21}
  ],
  xAxis:[...A.x,...B.x,...CA.x,...CB.x],
  yAxis:[...A.y,...B.y,...CA.y,...CB.y],
  visualMap:[{type:'continuous',show:false,seriesIndex:dotsIndex,dimension:2,min:0.05,max:0.8,inRange:{color:barStopsB.map(s=>s[1])}}],
  graphic:[
    {type:'text',left:327,top:657,style:{text:'a',font:'bold 21px "Liberation Serif"',fill:'#111'}},
    {type:'text',left:326,top:1373,style:{text:'b',font:'bold 21px "Liberation Serif"',fill:'#111'}}
  ],
  series
};
const chart=echarts.init(document.getElementById('c'),null,{renderer:'canvas'});
chart.setOption(option);
</script></body></html>
